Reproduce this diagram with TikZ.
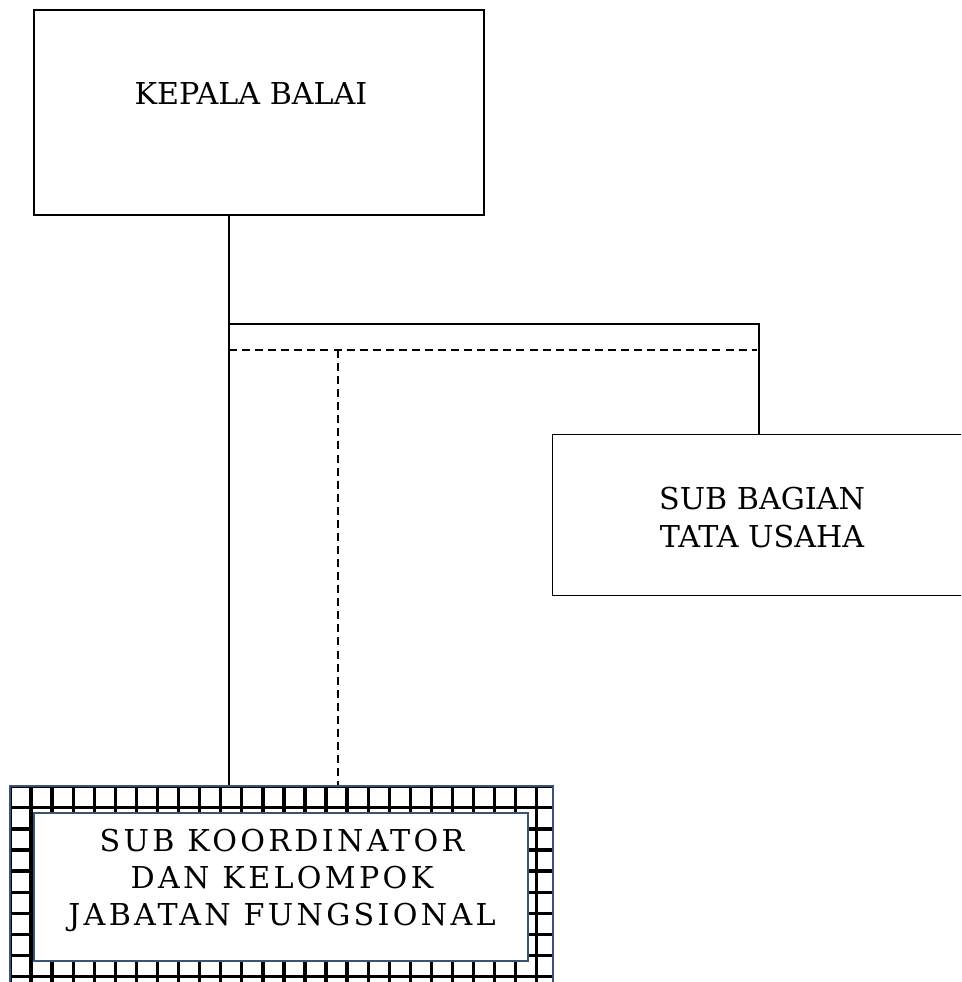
\documentclass[tikz,border=0pt]{standalone}
\usepackage{fontspec}
\setmainfont{DejaVu Serif}
\newfontfamily\widefont[LetterSpace=11]{DejaVu Serif}
\definecolor{bord}{RGB}{59,84,116}
\begin{document}
\begin{tikzpicture}[x=0.75pt,y=-0.75pt,
  box/.style={draw=black,line width=0.9pt,inner sep=0pt,fill=white},
  conn/.style={line width=1.4pt},
  dconn/.style={line width=1.1pt,dash pattern=on 6pt off 3.8pt},
  lbl/.style={font=\fontsize{22.6}{28.5}\selectfont,align=center,inner sep=0pt},
  widelbl/.style={font=\widefont\fontsize{22.6}{27.75}\selectfont,align=center,inner sep=0pt},
  gridln/.style={line width=2.5pt,black}]
\useasboundingbox (0,0) rectangle (961,982);
\clip (0,0) rectangle (961,982);
% boxes
\node[box,minimum width=337.5pt,minimum height=153.75pt] (kepala) at (259,112.5) {};
\node[lbl] (kepalatxt) at (251,94) {KEPALA BALAI};
\node[box,minimum width=330pt,minimum height=120.75pt,anchor=north west] (tu) at (552,434) {};
\node[lbl] (tutxt) at (762,518) {SUB BAGIAN\\TATA USAHA};
% outer grid box
\coordinate (onw) at (9,785);
\coordinate (ose) at (552,1010);
\begin{scope}
\clip (onw) rectangle (ose);
\foreach \i in {0,...,26} {\draw[gridln] (10+21.07*\i,780) -- (10+21.07*\i,1010);}
\foreach \j in {0,...,10} {\draw[gridln] (0,786.7+21.1*\j) -- (560,786.7+21.1*\j);}
\end{scope}
\node[draw=bord,line width=1.6pt,inner sep=0pt,minimum width=407.25pt,minimum height=168.75pt,anchor=north west] (outer) at (onw) {};
\node[draw=bord,line width=1.8pt,fill=white,inner sep=0pt,minimum width=370.5pt,minimum height=111pt,anchor=north west] (inner) at (33,812) {};
\node[widelbl] (innertxt) at (282,880.5) {SUB KOORDINATOR\\DAN KELOMPOK\\JABATAN FUNGSIONAL};
% connectors
\coordinate (j1) at (229,324);
\coordinate (j2) at (759,324);
\coordinate (d1) at (229,350);
\coordinate (d2) at (757,350);
\coordinate (d3) at (338,350);
\draw[conn] (kepala.south -| j1) -- (outer.north -| j1);
\draw[conn] (j1) -- (j2) -- (tu.north -| j2);
\draw[dconn] (d1) -- (d2);
\draw[dconn] (d3) -- (outer.north -| d3);
\end{tikzpicture}
\end{document}
